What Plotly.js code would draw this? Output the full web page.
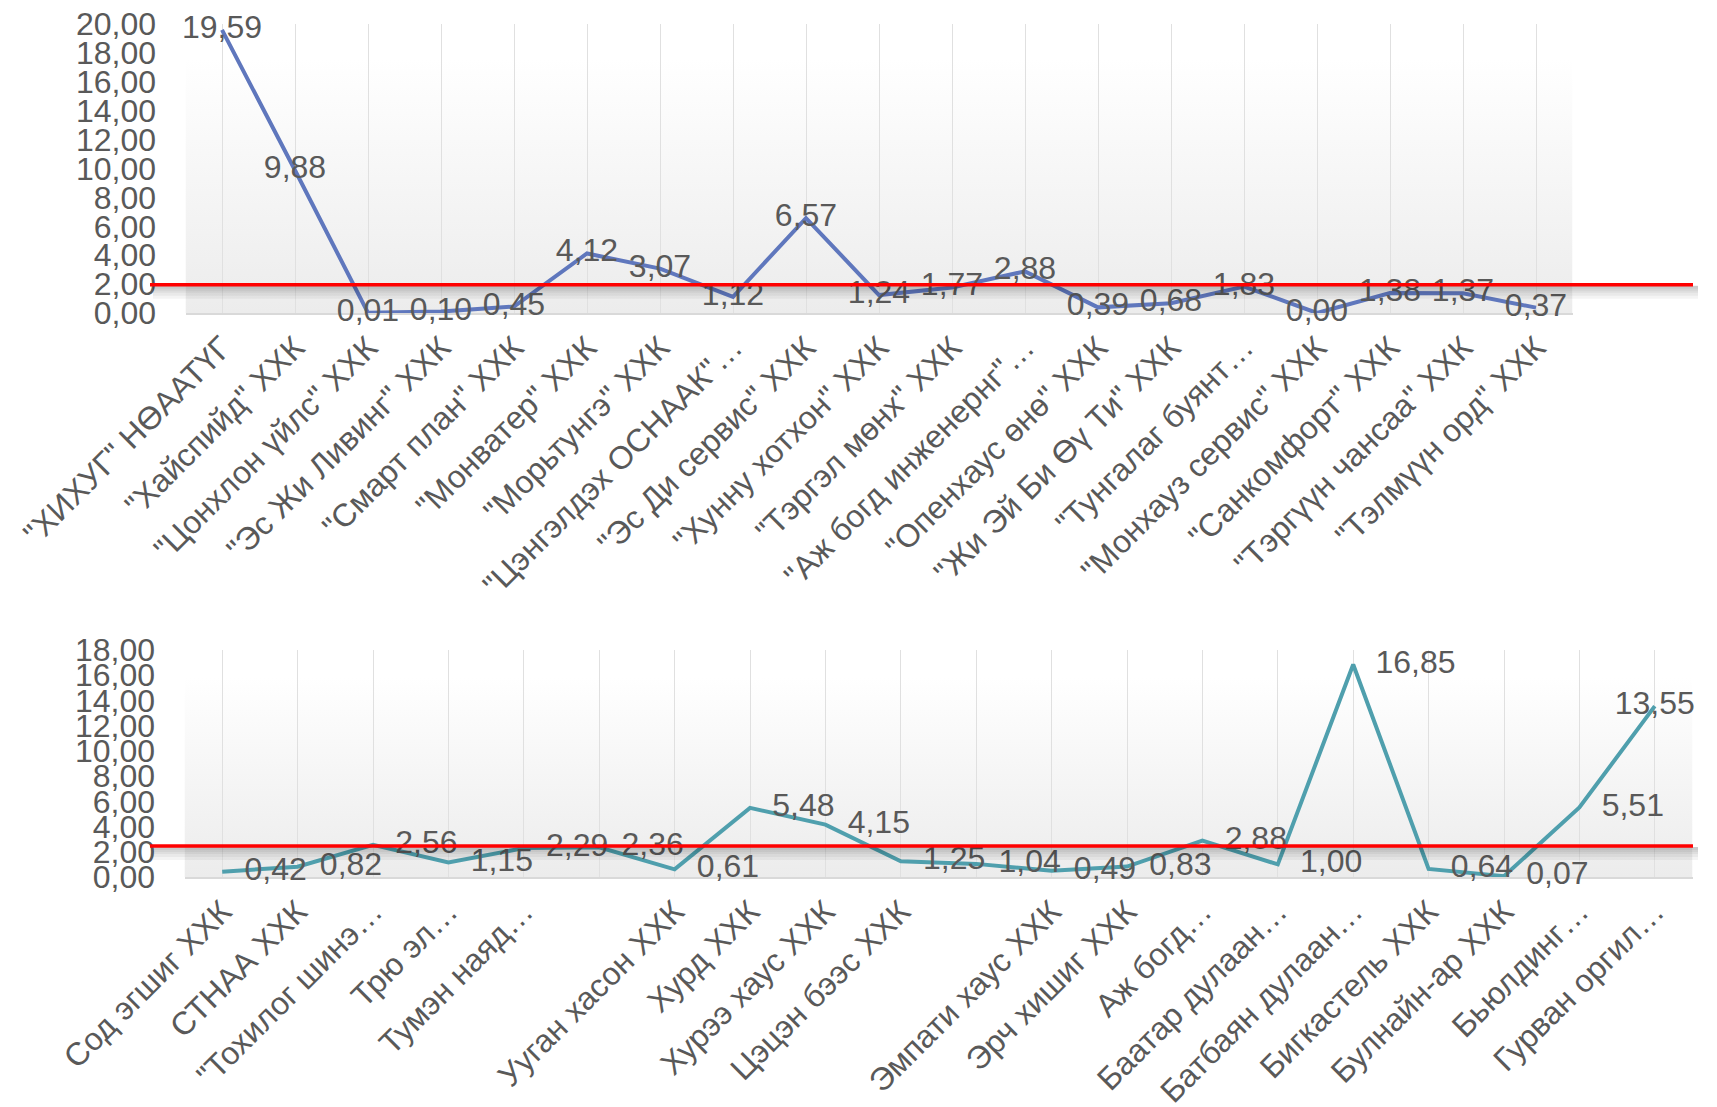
<!DOCTYPE html>
<html>
<head>
<meta charset="utf-8">
<script src="https://cdn.plot.ly/plotly-3.0.1.min.js"></script>
<style>
html,body{margin:0;padding:0;background:#ffffff;}
#chart{width:1717px;height:1107px;}
</style>
</head>
<body>
<div id="chart"></div>
<script>
// ---- data ----
const topLabels = [
  '"ХИХУГ" НӨААТҮГ',
  '"Хайспийд" ХХК',
  '"Цонхлон үйлс" ХХК',
  '"Эс Жи Ливинг" ХХК',
  '"Смарт план" ХХК',
  '"Монватер" ХХК',
  '"Морьтунгэ" ХХК',
  '"Цэнгэлдэх ОСНААК"…',
  '"Эс Ди сервис" ХХК',
  '"Хунну хотхон" ХХК',
  '"Тэргэл мөнх" ХХК',
  '"Аж богд инженернг"…',
  '"Опенхаус өнө" ХХК',
  '"Жи Эй Би Өү Ти" ХХК',
  '"Тунгалаг буянт…',
  '"Монхауз сервис" ХХК',
  '"Санкомфорт" ХХК',
  '"Тэргүүн чансаа" ХХК',
  '"Тэлмүүн орд" ХХК'
];
const topValues = [19.59, 9.88, 0.01, 0.10, 0.45, 4.12, 3.07, 1.12, 6.57, 1.24,
                   1.77, 2.88, 0.39, 0.68, 1.83, 0.00, 1.38, 1.37, 0.37];

const bottomLabels = [
  'Сод эгшиг ХХК',
  'СТНАА ХХК',
  '"Тохилог шинэ…',
  'Трю эл…',
  'Тумэн наяд…',
  '',
  'Ууган хасон ХХК',
  'Хурд ХХК',
  'Хурээ хаус ХХК',
  'Цэцэн бээс ХХК',
  '',
  'Эмпати хаус ХХК',
  'Эрч хишиг ХХК',
  'Аж богд…',
  'Баатар дулаан…',
  'Батбаян дулаан…',
  'Бигкастель ХХК',
  'Булнайн-ар ХХК',
  'Бьюлдинг…',
  'Гурван оргил…'
];
const bottomValues = [0.42, 0.82, 2.56, 1.15, 2.29, 2.36, 0.61, 5.48, 4.15, 1.25,
                      1.04, 0.49, 0.83, 2.88, 1.00, 16.85, 0.64, 0.07, 5.51, 13.55];

// red reference lines (one per chart)
const referenceLevels = [1.95, 2.46];

// ---- helpers / styles ----
const FONT = 'Liberation Sans, Arial, sans-serif';
const GREY = '#595959';
const FS = 32;
const fmt = v => v.toFixed(2).replace('.', ',');
const bottomIdx = bottomValues.map((_, i) => i);

const W = 1717, H = 1107;
const topDomX = [185.5 / W, 1572.5 / W];
const topDomY = [1 - 313 / H, 1 - 24 / H];
const botDomX = [184.5 / W, 1692.5 / W];
const botDomY = [1 - 877 / H, 1 - 650 / H];

const traces = [
  {
    type: 'scatter', mode: 'lines+text',
    x: topLabels, y: topValues,
    text: topValues.map(fmt), textposition: 'middle center',
    textfont: {family: FONT, size: FS, color: GREY},
    line: {color: '#5f77bd', width: 4},
    xaxis: 'x', yaxis: 'y', cliponaxis: false, showlegend: false
  },
  {
    type: 'scatter', mode: 'lines+markers+text',
    x: bottomIdx, y: bottomValues,
    text: bottomValues.map(fmt),
    textposition: bottomValues.map((_, i) => i === bottomValues.length - 1 ? 'middle center' : 'middle right'),
    textfont: {family: FONT, size: FS, color: GREY},
    marker: {size: 34, opacity: 0, color: '#4f9fad'},
    line: {color: '#4f9fad', width: 4},
    xaxis: 'x2', yaxis: 'y2', cliponaxis: false, showlegend: false
  }
];

const gradSvg = '<svg xmlns="http://www.w3.org/2000/svg" width="100" height="100" viewBox="0 0 100 100" preserveAspectRatio="none">' +
  '<defs><linearGradient id="g" x1="0" y1="0" x2="0" y2="1">' +
  '<stop offset="0" stop-color="#ffffff"/><stop offset="0.12" stop-color="#ffffff"/>' +
  '<stop offset="1" stop-color="#ececec"/></linearGradient></defs>' +
  '<rect x="0" y="0" width="100" height="100" fill="url(#g)"/></svg>';
const gradSrc = 'data:image/svg+xml;base64,' + btoa(gradSvg);

function bgImage(xr, yr) {
  return {source: gradSrc, xref: xr + ' domain', yref: yr + ' domain', x: 0, y: 1,
          sizex: 1, sizey: 1, xanchor: 'left', yanchor: 'top', sizing: 'stretch', layer: 'below'};
}

const shapes = [];
['y', 'y2'].forEach((yr, k) => {
  const lvl = referenceLevels[k];
  [4, 6, 8, 11, 14].forEach(off => {
    shapes.push({type: 'rect', xref: 'paper', yref: yr, ysizemode: 'pixel', yanchor: lvl,
      x0: 153 / W, x1: 1698 / W, y0: -1, y1: -off,
      fillcolor: 'rgba(0,0,0,0.045)', line: {width: 0}, layer: 'above'});
  });
  shapes.push({type: 'line', xref: 'paper', yref: yr, x0: 150 / W, x1: 1693 / W, y0: lvl, y1: lvl,
    line: {color: '#ff0000', width: 3.5}, layer: 'above'});
});

function xAxis(dom, anchor, extra) {
  return Object.assign({
    domain: dom, anchor: anchor, showgrid: true, gridcolor: '#e0e0e0', gridwidth: 1,
    showline: true, linecolor: '#d9d9d9', linewidth: 2, zeroline: false, layer: 'below traces',
    tickangle: -45, ticks: 'outside', ticklen: 1, tickcolor: 'rgba(0,0,0,0)',
    tickfont: {family: FONT, size: FS, color: GREY}, fixedrange: true
  }, extra);
}
function yAxis(dom, anchor, range) {
  return {
    domain: dom, anchor: anchor, range: range, dtick: 2, tick0: 0, tickformat: '.2f',
    showgrid: false, zeroline: false, showline: false, layer: 'below traces',
    ticks: 'outside', ticklen: 22, tickcolor: 'rgba(0,0,0,0)',
    tickfont: {family: FONT, size: FS, color: GREY}, fixedrange: true
  };
}

const layout = {
  width: W, height: H,
  margin: {l: 0, r: 0, t: 0, b: 0},
  paper_bgcolor: '#ffffff', plot_bgcolor: 'rgba(0,0,0,0)',
  separators: ', ',
  showlegend: false,
  font: {family: FONT, color: GREY},
  xaxis: xAxis(topDomX, 'y', {type: 'category', range: [-0.5, topLabels.length - 0.5]}),
  yaxis: yAxis(topDomY, 'x', [0, 20]),
  xaxis2: xAxis(botDomX, 'y2', {type: 'linear', range: [-0.5, bottomValues.length - 0.5],
    tickmode: 'array', tickvals: bottomIdx, ticktext: bottomLabels}),
  yaxis2: yAxis(botDomY, 'x2', [0, 18]),
  images: [bgImage('x', 'y'), bgImage('x2', 'y2')],
  shapes: shapes
};

Plotly.newPlot('chart', traces, layout, {displayModeBar: false, staticPlot: true});
</script>
</body>
</html>
